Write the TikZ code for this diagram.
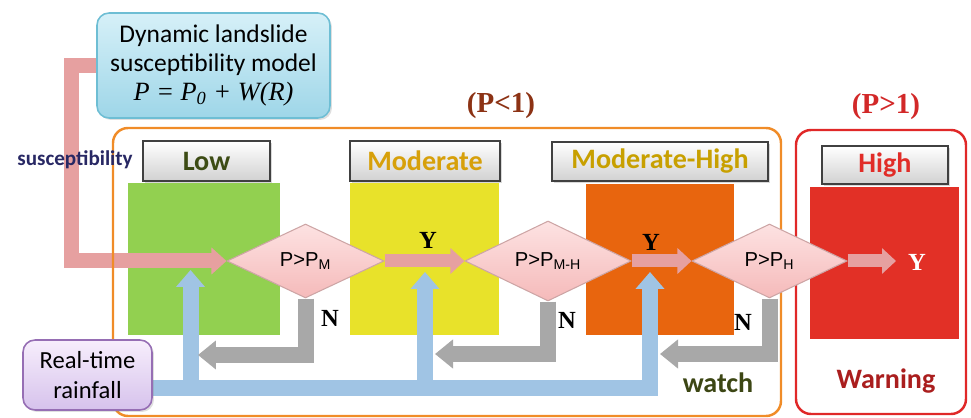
\documentclass[tikz,border=0pt]{standalone}
\usepackage{fontspec}
\setmainfont{Liberation Serif}
\newfontfamily\calfont{Carlito}
\newfontfamily\arifont{Liberation Sans}
\usetikzlibrary{shapes.geometric,arrows.meta,shadows}

\definecolor{sqgreen}{RGB}{146,208,80}
\definecolor{sqyellow}{RGB}{232,226,42}
\definecolor{sqorange}{RGB}{232,101,14}
\definecolor{sqred}{RGB}{226,48,38}
\definecolor{frameorange}{RGB}{240,140,40}
\definecolor{framered}{RGB}{224,40,40}
\definecolor{txtlow}{RGB}{60,75,20}
\definecolor{txtmod}{RGB}{215,160,10}
\definecolor{txtmodhigh}{RGB}{200,160,0}
\definecolor{txthigh}{RGB}{225,45,40}
\definecolor{pinkband}{RGB}{230,160,160}
\definecolor{blueband}{RGB}{160,196,228}
\definecolor{grayband}{RGB}{168,168,168}
\definecolor{dmtop}{RGB}{253,226,226}
\definecolor{dmbot}{RGB}{245,186,186}
\definecolor{dmline}{RGB}{205,165,165}
\definecolor{mdtop}{RGB}{214,240,248}
\definecolor{mdbot}{RGB}{158,214,232}
\definecolor{mdline}{RGB}{110,190,212}
\definecolor{rftop}{RGB}{247,238,252}
\definecolor{rfbot}{RGB}{214,194,236}
\definecolor{rfline}{RGB}{150,110,180}
\definecolor{txtless}{RGB}{140,50,20}
\definecolor{txtmore}{RGB}{210,40,40}
\definecolor{txtwatch}{RGB}{60,70,20}
\definecolor{txtwarn}{RGB}{170,30,30}
\definecolor{txtsus}{RGB}{40,40,100}

\pgfdeclarelayer{squares}
\pgfdeclarelayer{arrows}
\pgfsetlayers{squares,arrows,main}

\tikzset{
  levelsquare/.style={draw=none, inner sep=0pt},
  levelbox/.style={draw=black!75, line width=0.9pt, top color=white, bottom color=black!18,
    inner sep=0pt, font=\calfont\bfseries\fontsize{16}{19}\selectfont,
    drop shadow={opacity=0.3, shadow xshift=0.04cm, shadow yshift=-0.04cm}},
  decision/.style={diamond, draw=dmline, line width=0.6pt, top color=dmtop, bottom color=dmbot,
    inner sep=0pt, shape aspect=2.1, font=\arifont\fontsize{11.5}{13}\selectfont},
  sourcebox/.style={rounded corners=0.24cm, line width=0.9pt, align=center,
    drop shadow={opacity=0.25, shadow xshift=0.04cm, shadow yshift=-0.04cm}},
  pinkarrow/.style={draw=pinkband, line width=0.26cm,
    -{Triangle[width=0.5cm, length=0.28cm]}},
  suscarrow/.style={draw=pinkband, line width=0.3cm, line join=miter,
    -{Triangle[width=0.52cm, length=0.3cm]}},
  grayarrow/.style={draw=grayband, line width=0.32cm, line join=miter,
    -{Triangle[width=0.56cm, length=0.36cm]}},
  bluearrow/.style={draw=blueband, line width=0.32cm, line join=miter,
    -{Triangle[width=0.56cm, length=0.34cm]}},
  yn/.style={font=\bfseries\fontsize{14}{16}\selectfont},
  rangelabel/.style={font=\bfseries\fontsize{16.5}{18}\selectfont},
  rangeframe/.style={line width=1.4pt, rounded corners=0.3cm},
  footlabel/.style={font=\calfont\bfseries\fontsize{16}{19}\selectfont}
}

\begin{document}
\begin{tikzpicture}[x=0.02cm, y=-0.02cm]
\useasboundingbox (0,0) rectangle (971,418);

% range frames
\draw[rangeframe, draw=frameorange] (113,128) rectangle (781,416);
\draw[rangeframe, draw=framered] (796,130) rectangle (966,414);
\node[rangelabel, text=txtless] (lessone) at (501,106) {(P<1)};
\node[rangelabel, text=txtmore] (moreone) at (886,107) {(P>1)};

% coloured level squares
\begin{pgfonlayer}{squares}
\node[levelsquare, fill=sqgreen, minimum width=3.04cm, minimum height=3.04cm] (sqlow) at (204,259) {};
\node[levelsquare, fill=sqyellow, minimum width=2.98cm, minimum height=3.04cm] (sqmod) at (424.5,259) {};
\node[levelsquare, fill=sqorange, minimum width=2.96cm, minimum height=3.02cm] (sqmodhigh) at (660,259.5) {};
\node[levelsquare, fill=sqred, minimum width=2.98cm, minimum height=3.04cm] (sqhigh) at (884.5,263) {};
\end{pgfonlayer}

% level headers
\node[levelbox, text=txtlow, minimum width=2.54cm, minimum height=0.8cm] (lblow) at (206.5,161) {Low};
\node[levelbox, text=txtmod, minimum width=3.0cm, minimum height=0.8cm] (lbmod) at (425,161) {Moderate};
\node[levelbox, text=txtmodhigh, minimum width=4.32cm, minimum height=0.78cm] (lbmodhigh) at (660,161.5) {Moderate-High};
\node[levelbox, text=txthigh, minimum width=2.52cm, minimum height=0.76cm] (lbhigh) at (885,165) {High};

% decisions
\node[decision, minimum width=3.14cm, minimum height=1.48cm] (d1) at (305.5,261) {P>P\textsubscript{M}};
\node[decision, minimum width=3.32cm, minimum height=1.6cm] (d2) at (548,261) {P>P\textsubscript{M-H}};
\node[decision, minimum width=3.1cm, minimum height=1.48cm] (d3) at (769.5,261) {P>P\textsubscript{H}};

% source boxes
\node[sourcebox, draw=mdline, top color=mdtop, bottom color=mdbot,
  minimum width=4.66cm, minimum height=2.1cm,
  font=\calfont\fontsize{14.5}{16.5}\selectfont] (model) at (213.5,65.5)
  {Dynamic landslide\\susceptibility model\\{\rmfamily\itshape\fontsize{15}{16.5}\selectfont P = P\textsubscript{0} + W(R)}};
\node[sourcebox, draw=rfline, top color=rftop, bottom color=rfbot,
  minimum width=2.58cm, minimum height=1.4cm,
  font=\calfont\fontsize{14}{17}\selectfont] (rain) at (87.5,375) {Real-time\\rainfall};

% helper points
\coordinate (bus) at (0,388);
\coordinate (r1) at (190.5,270);
\coordinate (r2) at (425,272);
\coordinate (r3) at (650,272);
\coordinate (n1) at (198,355);
\coordinate (n2) at (435,354);
\coordinate (n3) at (660,354);
\coordinate (yend) at (896,261);

\begin{pgfonlayer}{arrows}
% rainfall feeds
\draw[bluearrow] (rain.east |- bus) -| (r3);
\draw[bluearrow] (r1 |- bus) -- (r1);
\draw[bluearrow] (r2 |- bus) -- (r2);
% "no" branches
\draw[grayarrow] (d1.south) |- (n1);
\draw[grayarrow] (d2.south) |- (n2);
\draw[grayarrow] (d3.south) |- (n3);
% "yes" branches
\draw[pinkarrow] (d1.east) -- (d2.west);
\draw[pinkarrow] (d2.east) -- (d3.west);
\draw[pinkarrow] (d3.east) -- (yend);
% susceptibility feed
\draw[suscarrow] (model.west) -- ++(-25,0) |- (d1.west);
\end{pgfonlayer}

% labels
\node[font=\calfont\bfseries\fontsize{12}{14}\selectfont, text=txtsus] (sus) at (75,160) {susceptibility};
\node[yn] (y1) at (428,240) {Y};
\node[yn] (y2) at (651,242) {Y};
\node[yn, text=white] (y3) at (917,262) {Y};
\node[yn] (no1) at (330,318) {N};
\node[yn] (no2) at (567,320) {N};
\node[yn] (no3) at (743,322) {N};
\node[footlabel, text=txtwatch] (watch) at (718,383) {watch};
\node[footlabel, text=txtwarn] (warn) at (886,381) {Warning};
\end{tikzpicture}
\end{document}
